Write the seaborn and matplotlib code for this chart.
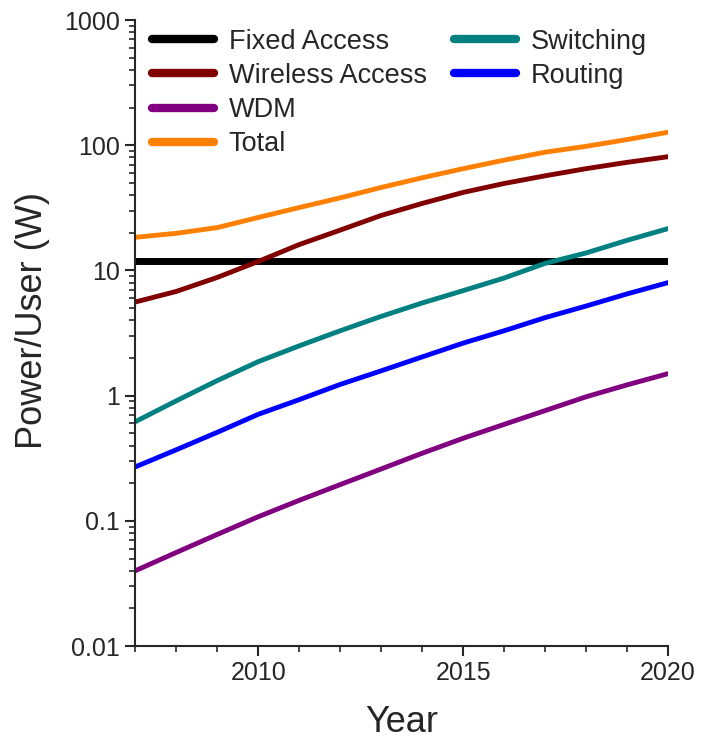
import numpy as np
import pandas as pd
import seaborn as sns
import matplotlib.pyplot as plt
from matplotlib.lines import Line2D
from matplotlib.ticker import LogLocator, NullFormatter, MultipleLocator, FuncFormatter

years = list(range(2007, 2021))
fixed_access = [11.8] * 14
wireless_access = [5.6, 6.8, 8.8, 11.8, 16.1, 21.0, 27.5, 34.3, 42.0, 49.5, 57.0, 65.0, 73.0, 81.0]
wdm = [0.040, 0.056, 0.078, 0.108, 0.146, 0.195, 0.26, 0.347, 0.457, 0.59, 0.76, 0.98, 1.22, 1.5]
total = [18.4, 19.8, 22.0, 26.5, 31.8, 38.0, 46.0, 55.0, 65.0, 76.0, 88.0, 98.0, 111.0, 127.0]
switching = [0.62, 0.91, 1.32, 1.87, 2.5, 3.3, 4.3, 5.5, 6.9, 8.7, 11.4, 13.8, 17.4, 21.6]
routing = [0.27, 0.37, 0.51, 0.71, 0.93, 1.23, 1.58, 2.04, 2.63, 3.3, 4.2, 5.2, 6.5, 8.0]

series = {
    'Fixed Access': fixed_access,
    'Wireless Access': wireless_access,
    'WDM': wdm,
    'Total': total,
    'Switching': switching,
    'Routing': routing,
}
colors = {
    'Fixed Access': '#000000',
    'Wireless Access': '#800000',
    'WDM': '#800080',
    'Total': '#FF8000',
    'Switching': '#008080',
    'Routing': '#0000FF',
}

df = pd.concat([pd.DataFrame({'year': years, 'power': v, 'name': k}) for k, v in series.items()])

sns.set_style('ticks')
plt.rcParams['font.family'] = ['Liberation Sans', 'DejaVu Sans']

fig = plt.figure(figsize=(7.01, 7.41), dpi=100)
ax = fig.add_axes([0.193, 0.128, 0.76, 0.845])

sns.lineplot(data=df, x='year', y='power', hue='name', palette=colors, linewidth=3.5,
             legend=False, ax=ax)
# the fixed access line is drawn thicker
for line in ax.lines:
    if np.allclose(line.get_ydata(), 11.8):
        line.set_linewidth(5)
        line.set_zorder(1.5)

ax.set_yscale('log')
ax.set_ylim(0.01, 1000)
ax.set_xlim(2007, 2020)
ax.xaxis.set_major_locator(MultipleLocator(5))
ax.xaxis.set_minor_locator(MultipleLocator(1))
ax.yaxis.set_major_locator(LogLocator(base=10))
ax.yaxis.set_minor_locator(LogLocator(base=10, subs=np.arange(2, 10)))
ax.yaxis.set_minor_formatter(NullFormatter())
ax.yaxis.set_major_formatter(FuncFormatter(lambda v, p: f'{v:g}'))

ax.tick_params(which='major', direction='out', length=7, width=1.5, labelsize=18, pad=4)
ax.tick_params(which='minor', direction='out', length=4, width=1.2)
for s in ['top', 'right']:
    ax.spines[s].set_visible(False)
for s in ['left', 'bottom']:
    ax.spines[s].set_linewidth(1.5)

ax.set_xlabel('Year', fontsize=26, labelpad=14)
ax.set_ylabel('Power/User (W)', fontsize=26)
ax.yaxis.set_label_coords(-0.16, 0.52)

order = ['Fixed Access', 'Wireless Access', 'WDM', 'Total', 'Switching', 'Routing']
handles = [Line2D([], [], color=colors[n], linewidth=6, solid_capstyle='round') for n in order]
labels = list(order)
blank = Line2D([], [], color='none')
handles += [blank, blank]
labels += ['', '']
ax.legend(handles, labels, ncol=2, loc='upper left', bbox_to_anchor=(0.0, 1.012),
          frameon=False, fontsize=19.5, handlelength=2.3, handletextpad=0.55,
          columnspacing=1.0, labelspacing=0.3, borderaxespad=0.2)

fig.savefig('out.png', dpi=100)
